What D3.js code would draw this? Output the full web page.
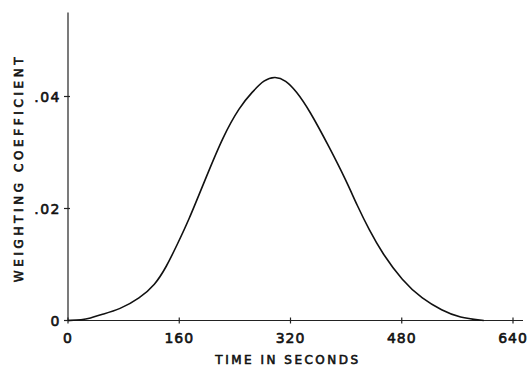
<!DOCTYPE html>
<html>
<head>
<meta charset="utf-8">
<script src="https://cdn.jsdelivr.net/npm/d3@7"></script>
<style>
  body { margin: 0; background: #fff; }
  svg { display: block; }
  text { font-family: "DejaVu Sans", sans-serif; fill: #111; stroke: #111; stroke-width: 0.6; }
</style>
</head>
<body>
<svg></svg>
<script>
// values
const times = [0, 20, 32, 46, 75, 103, 125, 142, 156, 173, 199, 223, 247, 265, 282, 298,
  313, 328, 347, 376, 400, 416, 433, 452, 481, 509, 538, 563, 598]
const weights = [0, 0.0001, 0.0004, 0.0010, 0.0020, 0.0040, 0.0063, 0.0097, 0.0133, 0.0177,
  0.0257, 0.0329, 0.0382, 0.0408, 0.0430, 0.0436, 0.0429, 0.0410, 0.0376, 0.0309, 0.0250,
  0.0205, 0.0162, 0.0120, 0.0071, 0.0039, 0.0018, 0.0005, 0]

const xTicks = [0, 160, 320, 480, 640]
const yTicks = [0, 0.02, 0.04]
const yTickLabels = ["0", ".02", ".04"]

const data = times.map((t, i) => ({ t: t, w: weights[i] }))

const width = 529, height = 369

const svg = d3.select("svg")
  .attr("width", width)
  .attr("height", height)

const x = d3.scaleLinear()
  .domain([0, 640])
  .range([68, 513])

const y = d3.scaleLinear()
  .domain([0, 0.055])
  .range([320.5, 12.5])

// axis lines
svg.append("line")
  .attr("x1", x(0)).attr("x2", x(0))
  .attr("y1", y(0)).attr("y2", y(0.055))
  .attr("stroke", "#222").attr("stroke-width", 1.2)

svg.append("line")
  .attr("x1", x(0)).attr("x2", x(640) + 10)
  .attr("y1", y(0)).attr("y2", y(0))
  .attr("stroke", "#222").attr("stroke-width", 1.2)

// ticks
svg.selectAll("line.xt")
  .data(xTicks)
  .enter()
  .append("line")
  .attr("class", "xt")
  .attr("x1", d => x(d)).attr("x2", d => x(d))
  .attr("y1", y(0) - 3).attr("y2", y(0) + 3)
  .attr("stroke", "#222").attr("stroke-width", 1.2)

svg.selectAll("line.yt")
  .data(yTicks)
  .enter()
  .append("line")
  .attr("class", "yt")
  .attr("x1", x(0) - 4).attr("x2", x(0) + 2)
  .attr("y1", d => y(d)).attr("y2", d => y(d))
  .attr("stroke", "#222").attr("stroke-width", 1.2)

// tick labels
svg.selectAll("text.xl")
  .data(xTicks)
  .enter()
  .append("text")
  .attr("class", "xl")
  .attr("x", d => x(d))
  .attr("y", y(0) + 22)
  .attr("text-anchor", "middle")
  .attr("font-size", 14)
  .attr("letter-spacing", 1)
  .text(d => d)

svg.selectAll("text.yl")
  .data(yTicks)
  .enter()
  .append("text")
  .attr("class", "yl")
  .attr("x", x(0) - 7)
  .attr("y", d => y(d) + 5)
  .attr("text-anchor", "end")
  .attr("font-size", 14)
  .attr("letter-spacing", 1.5)
  .text((d, i) => yTickLabels[i])

// axis titles
svg.append("text")
  .attr("x", 288)
  .attr("y", 364)
  .attr("text-anchor", "middle")
  .attr("font-size", 12)
  .attr("letter-spacing", 2.5)
  .text("TIME IN SECONDS")

svg.append("text")
  .attr("transform", "translate(23, 168) rotate(-90)")
  .attr("text-anchor", "middle")
  .attr("font-size", 12)
  .attr("letter-spacing", 3.6)
  .text("WEIGHTING  COEFFICIENT")

// the curve
const line = d3.line()
  .x(d => x(d.t))
  .y(d => y(d.w))
  .curve(d3.curveBasis)

svg.append("path")
  .datum(data)
  .attr("fill", "none")
  .attr("stroke", "#111")
  .attr("stroke-width", 1.6)
  .attr("d", line)
</script>
</body>
</html>
